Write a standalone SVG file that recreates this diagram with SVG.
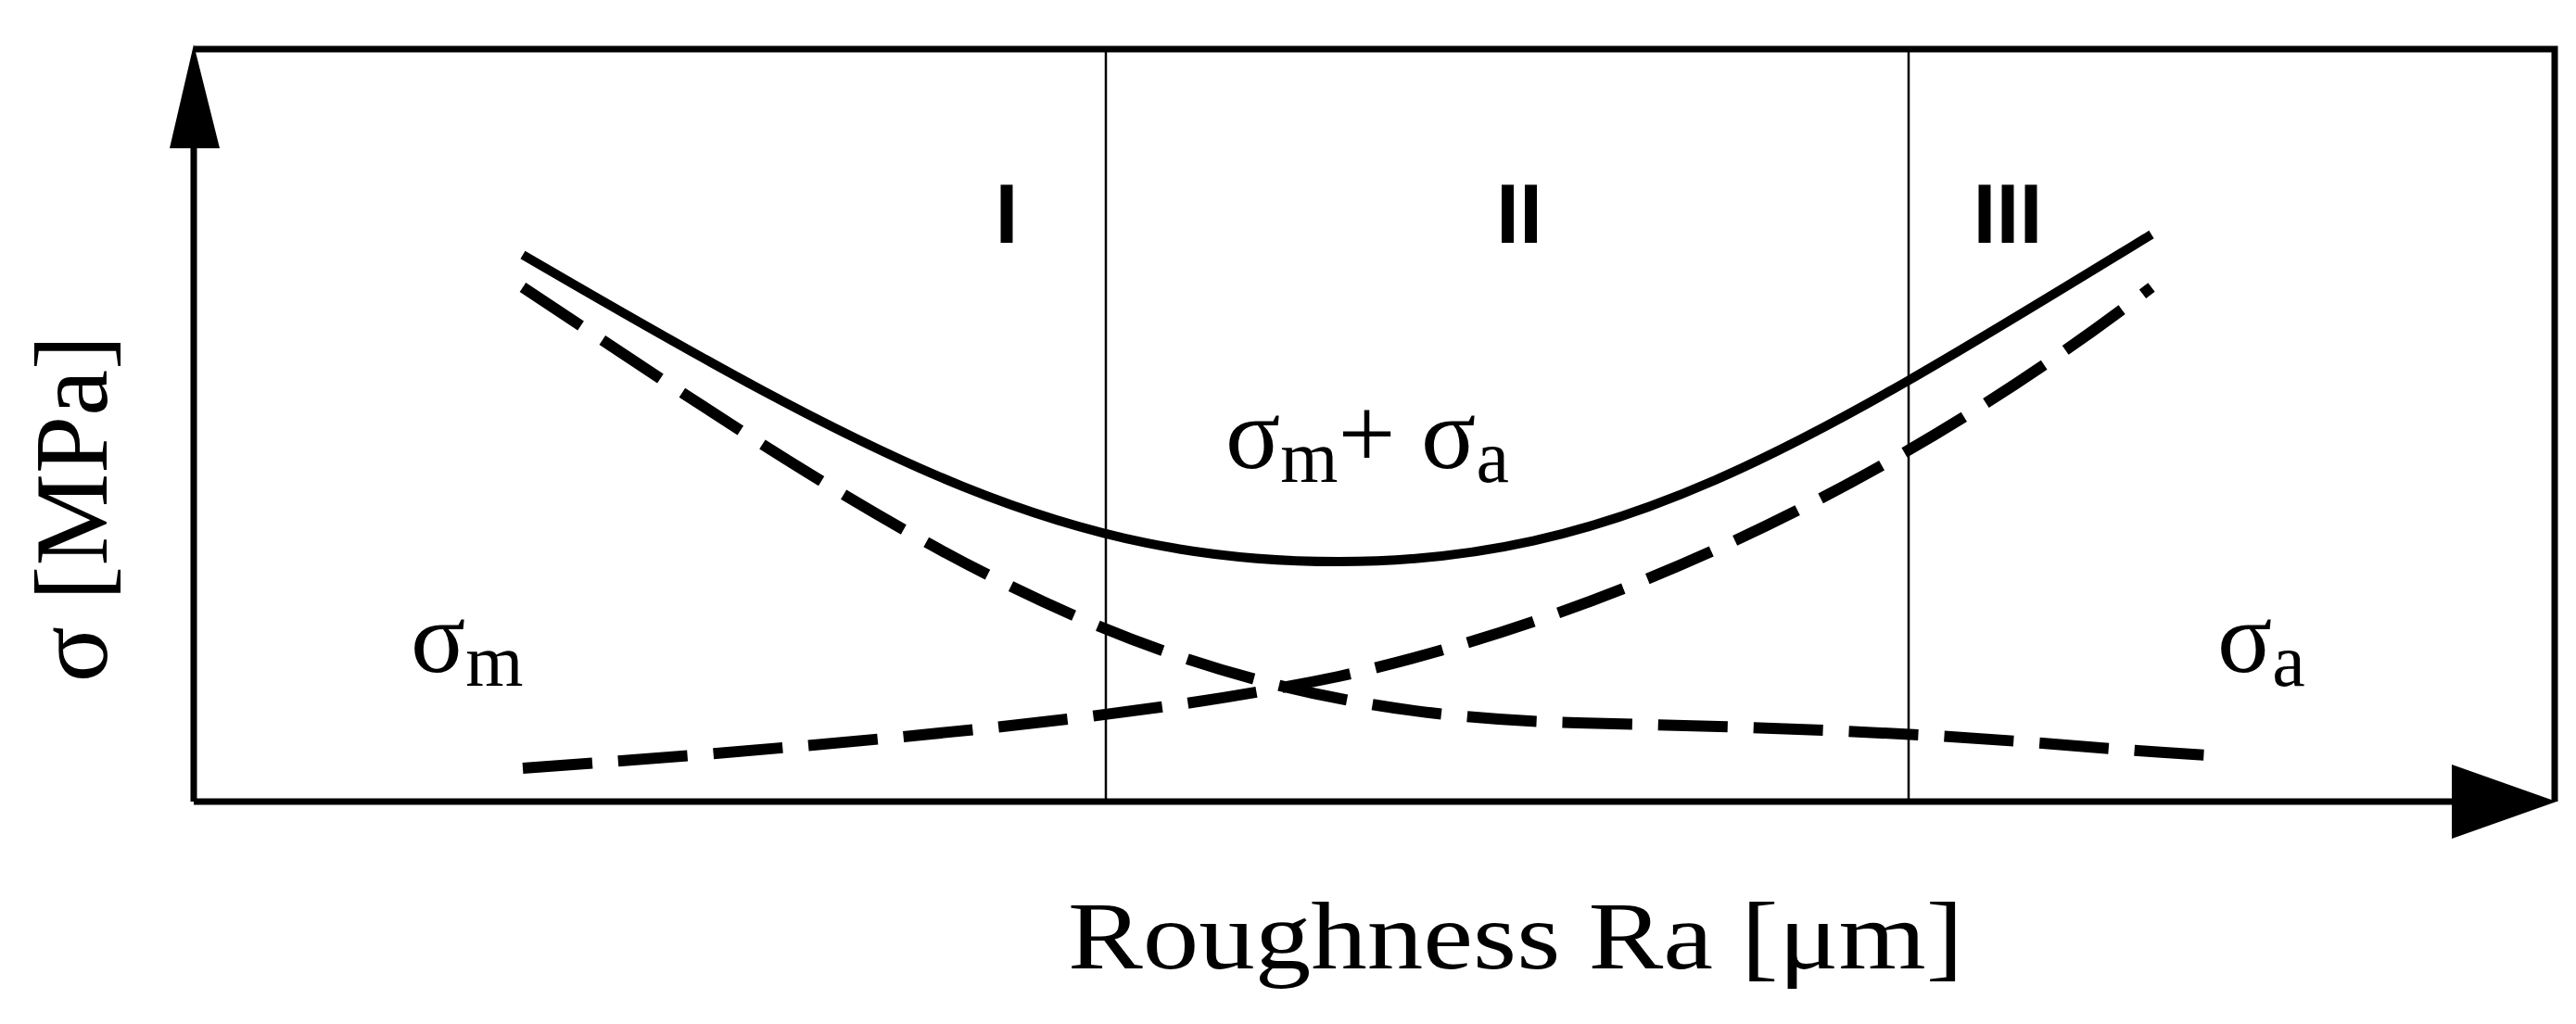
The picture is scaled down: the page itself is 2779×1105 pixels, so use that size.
<svg xmlns="http://www.w3.org/2000/svg" width="2779" height="1105" viewBox="0 0 2779 1105">
<style>
.ax{stroke:#000;stroke-width:7;fill:none}
.thin{stroke:#000;stroke-width:2.5;fill:none}
.cur{stroke:#000;stroke-width:10;fill:none}
.dash{stroke:#000;stroke-width:12;fill:none;stroke-dasharray:75 28}
.s{font-family:"Liberation Serif",serif;fill:#000}
.r{font-family:"Liberation Sans",sans-serif;fill:#000;font-size:90px;font-weight:bold}
</style>
<rect width="2779" height="1105" fill="#fff"/>
<g id="frame">
<path class="ax" d="M209 53H2756V865"/>
<path class="ax" d="M209 865V140M209 865H2660"/>
<polygon points="209,48 183,160 237,160"/>
<polygon points="2758,865 2645,825 2645,905"/>
<path class="thin" d="M1193 53V865M2059 53V865"/>
</g>
<g id="regions">
<text class="r" x="1086" y="262" text-anchor="middle">I</text>
<text class="r" x="1639" y="262" text-anchor="middle">II</text>
<text class="r" x="2166" y="262" text-anchor="middle">III</text>
</g>
<g id="connectors">
<path class="cur" d="M564 275 C950 500 1150 606 1444 606 C1750 606 1950 480 2321 253"/>
<path class="dash" d="M564 310 C1000 600 1250 770 1701 780 S2200 805 2383 815"/>
<path class="dash" d="M564 829 C1100 790 1300 760 1444 730 C1800 650 2100 480 2321 310"/>
</g>
<g id="labels">
<text class="s" x="443" y="725" font-size="110">σ<tspan font-size="80" dy="15">m</tspan></text>
<text class="s" x="2392" y="725" font-size="110">σ<tspan font-size="80" dy="15">a</tspan></text>
<text class="s" x="1322" y="505" font-size="110">σ<tspan font-size="80" dy="15">m</tspan><tspan dy="-15">+ σ</tspan><tspan font-size="80" dy="15">a</tspan></text>
<text class="s" font-size="112" transform="translate(115 549) rotate(-90)" text-anchor="middle">σ [MPa]</text>
<text class="s" x="1152" y="1045" font-size="104" textLength="966" lengthAdjust="spacingAndGlyphs">Roughness Ra [μm]</text>
</g>
</svg>
